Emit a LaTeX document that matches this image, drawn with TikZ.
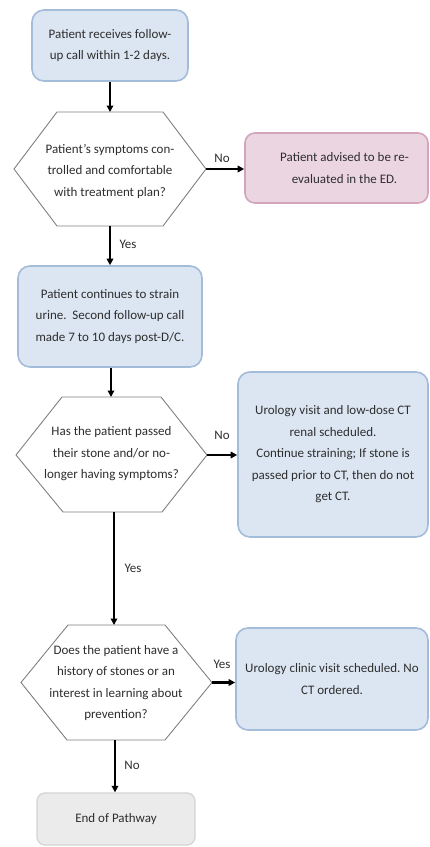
\documentclass[tikz,border=0pt]{standalone}
\usepackage{fontspec}
\setmainfont{Carlito}
\usetikzlibrary{arrows.meta,calc}
\frenchspacing
\definecolor{bfill}{HTML}{DCE6F2}
\definecolor{bdraw}{HTML}{A3BCDA}
\definecolor{pfill}{HTML}{EBD5E1}
\definecolor{pdraw}{HTML}{D3A5BC}
\definecolor{gfill}{HTML}{EBEBEB}
\definecolor{gdraw}{HTML}{D4D4D4}
\definecolor{hdraw}{HTML}{808080}
\definecolor{tcol}{HTML}{2E2E2E}
\tikzset{
  every node/.style={font=\fontsize{13}{21.5}\selectfont, text=tcol},
  bbox/.style={draw=bdraw, fill=bfill, line width=1.6pt, rounded corners=12pt, align=center, inner sep=0pt},
  pbox/.style={draw=pdraw, fill=pfill, line width=1.6pt, rounded corners=10pt, align=center, inner sep=0pt},
  gbox/.style={draw=gdraw, fill=gfill, line width=1.3pt, rounded corners=8pt, align=center, inner sep=0pt},
  hexa/.style={draw=hdraw, fill=white, line width=0.9pt},
  htext/.style={align=center, inner sep=0pt},
  conn/.style={draw=black, line width=2.3pt, -{Triangle[length=6.5pt,width=6.5pt]}},
  lbl/.style={inner sep=0pt}
}
\begin{document}
\begin{tikzpicture}[x=1pt,y=-1pt]
\useasboundingbox (0,0) rectangle (429,847);
% boxes
\node[bbox, minimum width=156pt, minimum height=71pt] (b1) at (110,45.5) {Patient receives follow-\\up call within 1-2 days.};
\node[pbox, minimum width=183pt, minimum height=70pt] (p1) at (336.5,168) {\hspace*{16pt}Patient advised to be re-\\\hspace*{16pt}evaluated in the ED.};
\node[bbox, minimum width=184pt, minimum height=101pt] (b2) at (110,316.5) {Patient continues to strain\\urine.\ \ Second follow-up call\\made 7 to 10 days post-D/C.};
\node[bbox, minimum width=190pt, minimum height=165pt] (b3) at (333,454.5) {Urology visit and low-dose CT\\renal scheduled.\\Continue straining; If stone is\\passed prior to CT, then do not\\get CT.};
\node[bbox, minimum width=192pt, minimum height=102pt] (b4) at (332,679) {Urology clinic visit scheduled. No\\CT ordered.};
\node[gbox, minimum width=158pt, minimum height=52pt] (e1) at (116,819) {End of Pathway};
% hexagon 1
\coordinate (h1t) at (110,112);
\coordinate (h1b) at (110,226);
\coordinate (h1l) at (14,169);
\coordinate (h1r) at (206,169);
\draw[hexa] (57,112) -- (163,112) -- (h1r) -- (163,226) -- (57,226) -- (h1l) -- cycle;
\node[htext] (q1) at (110,171) {Patient's symptoms con-\\trolled and comfortable\\with treatment plan?};
% hexagon 2
\coordinate (h2t) at (111,397);
\coordinate (h2b) at (114,512);
\coordinate (h2l) at (16,455);
\coordinate (h2r) at (207,455);
\draw[hexa] (62,397) -- (161,397) -- (h2r) -- (162,512) -- (63,512) -- (h2l) -- cycle;
\node[htext] (q2) at (111.5,454) {Has the patient passed\\their stone and/or no-\\longer having symptoms?};
% hexagon 3
\coordinate (h3t) at (114,625);
\coordinate (h3b) at (115,740);
\coordinate (h3l) at (21,682.5);
\coordinate (h3r) at (212,682.5);
\draw[hexa] (68,625) -- (165,625) -- (h3r) -- (165,740) -- (67,740) -- (h3l) -- cycle;
\node[htext] (q3) at (116,683) {Does the patient have a\\history of stones or an\\interest in learning about\\prevention?};
% connectors
\draw[conn] (b1.south -| h1t) -- (h1t);
\draw[conn] (h1r) -- (p1.west |- h1r);
\draw[conn] (h1b) -- (h1b |- b2.north);
\draw[conn] (b2.south -| h2t) -- (h2t);
\draw[conn] (h2r) -- (b3.west |- h2r);
\draw[conn] (h2b) -- (h3t -| h2b);
\draw[conn] (h3r) -- (b4.west |- h3r);
\draw[conn] (h3b) -- (h3b |- e1.north);
% labels
\node[lbl] (l1) at (222,158) {No};
\node[lbl] (l2) at (128,244) {Yes};
\node[lbl] (l3) at (222,435) {No};
\node[lbl] (l4) at (133,568) {Yes};
\node[lbl] (l5) at (222,664) {Yes};
\node[lbl] (l6) at (132,765) {No};
\end{tikzpicture}
\end{document}
